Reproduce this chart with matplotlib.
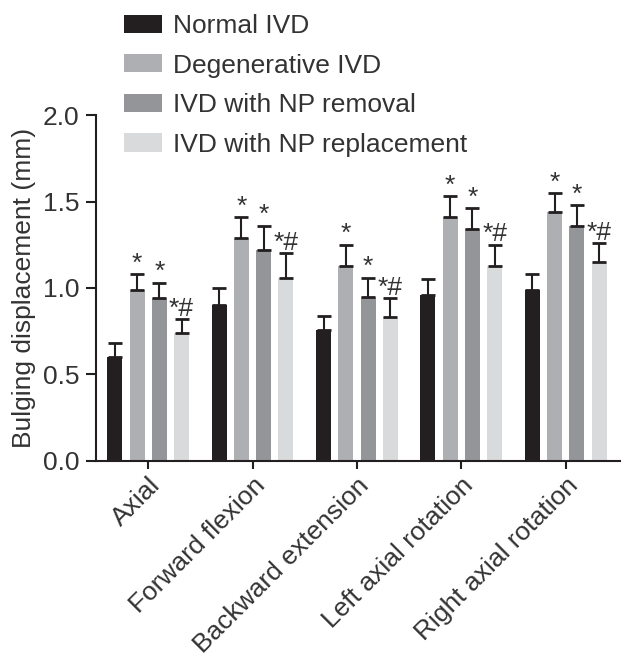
import numpy as np
import matplotlib.pyplot as plt
from matplotlib.transforms import ScaledTranslation

plt.rcParams['font.family'] = ['Liberation Sans', 'DejaVu Sans']

# Data
movements = ['Axial', 'Forward flexion', 'Backward extension',
             'Left axial rotation', 'Right axial rotation']
groups = ['Normal IVD', 'Degenerative IVD', 'IVD with NP removal',
          'IVD with NP replacement']
normal = [0.60, 0.90, 0.76, 0.96, 0.99]
normal_sd = [0.08, 0.10, 0.08, 0.09, 0.09]
degen = [0.99, 1.29, 1.13, 1.41, 1.44]
degen_sd = [0.09, 0.12, 0.12, 0.12, 0.11]
removal = [0.94, 1.22, 0.95, 1.34, 1.36]
removal_sd = [0.09, 0.14, 0.11, 0.12, 0.12]
replace = [0.74, 1.06, 0.83, 1.13, 1.15]
replace_sd = [0.08, 0.14, 0.11, 0.12, 0.11]
marks = ['', '*', '*', '*#']

colors = ['#231f20', '#aeafb2', '#939598', '#d9dadb']
txt = '#333333'

fig = plt.figure(figsize=(6.24, 6.61), dpi=100)
ax = fig.add_axes([0.1538, 0.3026, 0.8398, 0.5234])

x = np.arange(len(movements))
step = 0.213
width = 0.144
series = [(normal, normal_sd), (degen, degen_sd), (removal, removal_sd), (replace, replace_sd)]
for i, (vals, sd) in enumerate(series):
    pos = x + (i - 1.5) * step
    ax.bar(pos, vals, width, color=colors[i], label=groups[i], edgecolor='none', zorder=2)
    ax.errorbar(pos, vals, yerr=[np.zeros(len(sd)), sd], fmt='none', ecolor='#231f20',
                elinewidth=1.5, capsize=5, capthick=2, zorder=3)
    if marks[i]:
        for p, v, s in zip(pos, vals, sd):
            ax.text(p, v + s + 0.02, marks[i], ha='center', va='baseline',
                    fontsize=19, color=txt)

ax.set_xlim(-0.5, 4.52)
ax.set_ylim(0, 2.0)
ax.set_yticks([0, 0.5, 1.0, 1.5, 2.0])
ax.set_yticklabels(['0.0', '0.5', '1.0', '1.5', '2.0'])
ax.set_xticks(x)
ax.set_xticklabels(movements, rotation=45, ha='right', rotation_mode='anchor')
shift = ScaledTranslation(7 / 100, 0, fig.dpi_scale_trans)
for lab in ax.get_xticklabels():
    lab.set_transform(lab.get_transform() + shift)
ax.set_ylabel('Bulging displacement (mm)', fontsize=19, color=txt, labelpad=5)

for side in ['top', 'right']:
    ax.spines[side].set_visible(False)
for side in ['left', 'bottom']:
    ax.spines[side].set_linewidth(1.5)
    ax.spines[side].set_color('#231f20')
ax.tick_params(axis='both', labelsize=19, labelcolor=txt, width=1.5, color='#231f20')
ax.tick_params(axis='y', length=7, pad=5)
ax.tick_params(axis='x', length=6, pad=3)

fig.legend(loc='upper left', bbox_to_anchor=(124 / 624, 1 - 14 / 661), frameon=False,
           fontsize=19, labelcolor=txt, handlelength=1.44, handleheight=0.68,
           handletextpad=0.42, labelspacing=0.59, borderpad=0, borderaxespad=0)

fig.savefig('out.png', dpi=100)
